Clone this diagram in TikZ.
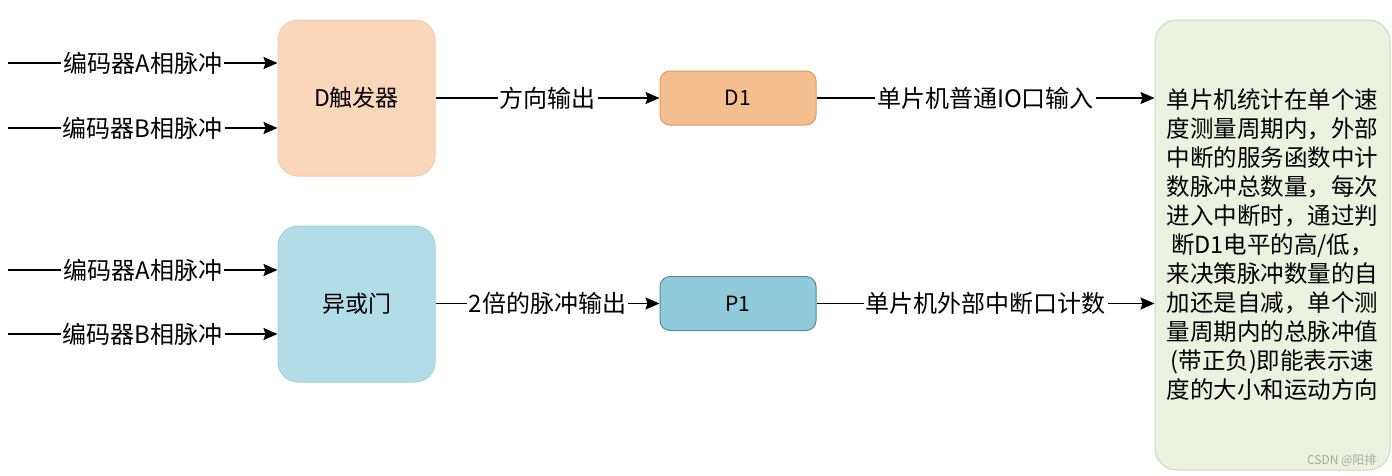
\documentclass[tikz,border=0pt]{standalone}
\usepackage{fontspec}
\setmainfont{Noto Sans CJK SC}
\usetikzlibrary{arrows.meta}
\definecolor{dfill}{HTML}{FAD6BA}
\definecolor{ddraw}{HTML}{F3CDAE}
\definecolor{xfill}{HTML}{B2DCE7}
\definecolor{xdraw}{HTML}{A6D2DF}
\definecolor{d1fill}{HTML}{F5BE8E}
\definecolor{d1draw}{HTML}{DE9A5E}
\definecolor{p1fill}{HTML}{8FCBDB}
\definecolor{p1draw}{HTML}{4F8C9C}
\definecolor{ofill}{HTML}{EBF3E0}
\definecolor{odraw}{HTML}{C9DCB6}
\tikzset{
  bigbox/.style={rounded corners=20pt, minimum width=157pt, minimum height=156pt, line width=1pt, font=\fontsize{23}{28}\selectfont, inner sep=0pt},
  smallbox/.style={rounded corners=10pt, minimum width=156pt, minimum height=54pt, line width=1pt, font=\fontsize{21}{26}\selectfont, inner sep=0pt},
  arr/.style={line width=1.6pt, -{Stealth[length=14pt,width=12pt,inset=2pt]}},
  lbl/.style={fill=white, inner sep=2pt, font=\fontsize{24}{28}\selectfont}
}
\begin{document}
\begin{tikzpicture}[x=1pt,y=-1pt]
\useasboundingbox (0,0) rectangle (1392,475);
\fill[white] (0,0) rectangle (1392,475);
\node[bigbox, fill=dfill, draw=ddraw] (dff) at (356.5,98) {D触发器};
\node[bigbox, fill=xfill, draw=xdraw] (xor) at (356.5,304) {异或门};
\node[smallbox, fill=d1fill, draw=d1draw] (d1) at (738,98) {D1};
\node[smallbox, fill=p1fill, draw=p1draw] (p1) at (738,303.5) {P1};
\node[rounded corners=22pt, minimum width=235pt, minimum height=450pt, fill=ofill, draw=odraw, line width=1pt, align=center, inner sep=0pt, font=\fontsize{23.5}{29}\selectfont] (out) at (1272.5,245) {单片机统计在单个速\\度测量周期内，外部\\中断的服务函数中计\\数脉冲总数量，每次\\进入中断时，通过判\\断D1电平的高/低，\\来决策脉冲数量的自\\加还是自减，单个测\\量周期内的总脉冲值\\(带正负)即能表示速\\度的大小和运动方向};
\node[text=gray!70, font=\fontsize{12}{14}\selectfont, anchor=east] (wm) at (1380,460) {CSDN @阳排};
\coordinate (a1) at (8,63);
\coordinate (b1) at (8,128);
\coordinate (a2) at (8,270);
\coordinate (b2) at (8,334);
\draw[arr] (a1) -- node[lbl] {编码器A相脉冲} (a1 -| dff.west);
\draw[arr] (b1) -- node[lbl] {编码器B相脉冲} (b1 -| dff.west);
\draw[arr] (a2) -- node[lbl] {编码器A相脉冲} (a2 -| xor.west);
\draw[arr] (b2) -- node[lbl] {编码器B相脉冲} (b2 -| xor.west);
\draw[arr] (dff.east |- d1.west) -- node[lbl] {方向输出} (d1.west);
\draw[arr] (xor.east |- p1.west) -- node[lbl] {2倍的脉冲输出} (p1.west);
\draw[arr] (d1.east) -- node[lbl] {单片机普通IO口输入} (d1.east -| out.west);
\draw[arr] (p1.east) -- node[lbl] {单片机外部中断口计数} (p1.east -| out.west);
\end{tikzpicture}
\end{document}
